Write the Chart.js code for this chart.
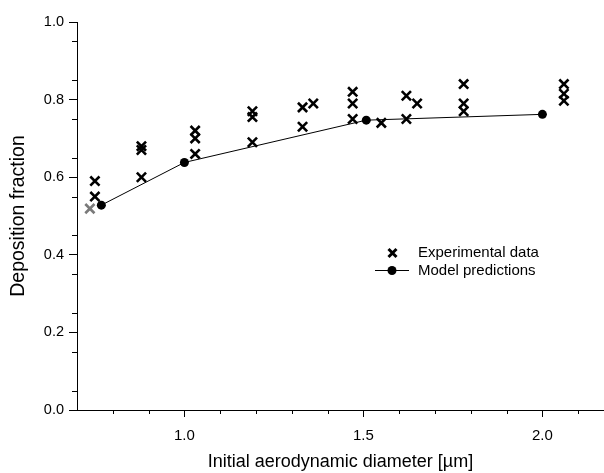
<!DOCTYPE html>
<html lang="en">
<head>
    <meta charset="UTF-8">
    <title>Deposition fraction</title>
    <style>
        html, body { margin: 0; padding: 0; background: #fff; }
        #wrap { width: 604px; height: 473px; }
    </style>
</head>
<body>
    <div id="wrap"><canvas id="depCanvas"></canvas></div>

    <script src="https://cdn.jsdelivr.net/npm/chart.js@4/dist/chart.umd.min.js"></script>
    <script>
        // experimental points (diameter, fraction)
        const expX = [0.736, 0.75, 0.75, 0.88, 0.88, 0.88, 1.03, 1.03, 1.03, 1.19, 1.19, 1.19,
            1.33, 1.33, 1.36, 1.47, 1.47, 1.47, 1.55, 1.62, 1.62, 1.65, 1.78, 1.78, 1.78, 2.06, 2.06, 2.06];
        const expY = [0.519, 0.59, 0.55, 0.68, 0.67, 0.60, 0.72, 0.70, 0.66, 0.77, 0.755, 0.69,
            0.78, 0.73, 0.79, 0.82, 0.79, 0.75, 0.74, 0.81, 0.75, 0.79, 0.84, 0.79, 0.77, 0.84, 0.815, 0.797];
        // first point is drawn grey in the original
        const expGrey = [0];

        const modelX = [0.768, 1.0, 1.508, 2.0];
        const modelY = [0.528, 0.638, 0.747, 0.762];

        const xLabels = [1.0, 1.5, 2.0];
        const yLabels = [0.0, 0.2, 0.4, 0.6, 0.8, 1.0];

        const FONT = "'Liberation Sans', Arial, sans-serif";

        const expPoints = expX.map((x, i) => ({ x: x, y: expY[i] }));
        const modelPoints = modelX.map((x, i) => ({ x: x, y: modelY[i] }));

        // minor ticks + legend drawn on top
        const extras = {
            id: 'extras',
            afterDraw(chart) {
                const c = chart.ctx;
                const xs = chart.scales.x, ys = chart.scales.y;
                c.save();
                c.strokeStyle = '#000';
                c.lineWidth = 1;
                c.beginPath();
                for (let v = 0.05; v < 1.0; v += 0.1) {
                    const py = Math.round(ys.getPixelForValue(v)) + 0.5;
                    c.moveTo(xs.left - 5, py);
                    c.lineTo(xs.left, py);
                }
                for (let v = 0.8; v < 2.15; v += 0.1) {
                    if (Math.abs(v - 1) < 0.01 || Math.abs(v - 1.5) < 0.01 || Math.abs(v - 2) < 0.01) continue;
                    const px = Math.round(xs.getPixelForValue(v)) + 0.5;
                    c.moveTo(px, ys.bottom);
                    c.lineTo(px, ys.bottom + 4);
                }
                c.stroke();

                // legend
                c.font = '15px ' + FONT;
                c.fillStyle = '#000';
                c.textBaseline = 'middle';
                c.fillText('Experimental data', 418, 253);
                c.fillText('Model predictions', 418, 271);
                c.lineWidth = 3;
                c.beginPath();
                c.moveTo(388.5, 249); c.lineTo(396.5, 257);
                c.moveTo(396.5, 249); c.lineTo(388.5, 257);
                c.stroke();
                c.lineWidth = 1;
                c.beginPath();
                c.moveTo(375, 270.5); c.lineTo(409, 270.5);
                c.stroke();
                c.beginPath();
                c.arc(392, 270.5, 4.5, 0, Math.PI * 2);
                c.fill();
                c.restore();
            }
        };

        const ctx = document.getElementById('depCanvas').getContext('2d');
        const depChart = new Chart(ctx, {
            type: 'scatter',
            data: {
                datasets: [{
                    label: 'Experimental data',
                    data: expPoints,
                    pointStyle: 'crossRot',
                    pointRadius: 6.5,
                    pointHoverRadius: 6.5,
                    pointBorderWidth: 2.6,
                    borderColor: expPoints.map((p, i) => expGrey.includes(i) ? '#7a7a7a' : '#000'),
                    backgroundColor: '#000',
                    showLine: false,
                    order: 1
                }, {
                    label: 'Model predictions',
                    data: modelPoints,
                    showLine: true,
                    borderColor: '#000',
                    borderWidth: 1,
                    backgroundColor: '#000',
                    pointRadius: 4.5,
                    pointHoverRadius: 4.5,
                    pointBorderWidth: 0,
                    order: 2
                }]
            },
            options: {
                responsive: true,
                maintainAspectRatio: false,
                animation: false,
                devicePixelRatio: 1,
                layout: { autoPadding: false, padding: { top: 22, right: 0, left: 0, bottom: 0 } },
                plugins: { legend: { display: false }, tooltip: { enabled: false } },
                scales: {
                    x: {
                        type: 'linear',
                        min: 0.7,
                        max: 2.172,
                        afterFit(s) { s.height = 63; s.paddingLeft = 0; s.paddingRight = 0; },
                        afterBuildTicks(s) { s.ticks = xLabels.map(v => ({ value: v })); },
                        ticks: {
                            color: '#000',
                            font: { family: FONT, size: 15 },
                            padding: 10,
                            callback: v => v.toFixed(1)
                        },
                        grid: { drawOnChartArea: false, drawTicks: true, tickLength: 7, tickColor: '#000' },
                        border: { display: true, color: '#000', width: 1 },
                        title: {
                            display: true,
                            text: 'Initial aerodynamic diameter [\u00b5m]',
                            color: '#000',
                            font: { family: FONT, size: 18 },
                            padding: { top: 2, bottom: 0 }
                        }
                    },
                    y: {
                        type: 'linear',
                        min: 0,
                        max: 1.0,
                        afterFit(s) { s.width = 77; },
                        afterBuildTicks(s) { s.ticks = yLabels.map(v => ({ value: v })); },
                        ticks: {
                            color: '#000',
                            font: { family: FONT, size: 14.5 },
                            padding: 5,
                            callback: v => v.toFixed(1)
                        },
                        grid: { drawOnChartArea: false, drawTicks: true, tickLength: 8, tickColor: '#000' },
                        border: { display: true, color: '#000', width: 1 },
                        title: {
                            display: true,
                            text: 'Deposition fraction',
                            color: '#000',
                            font: { family: FONT, size: 19.5 },
                            padding: { top: 7, bottom: 0 }
                        }
                    }
                }
            },
            plugins: [extras]
        });
    </script>
</body>
</html>
